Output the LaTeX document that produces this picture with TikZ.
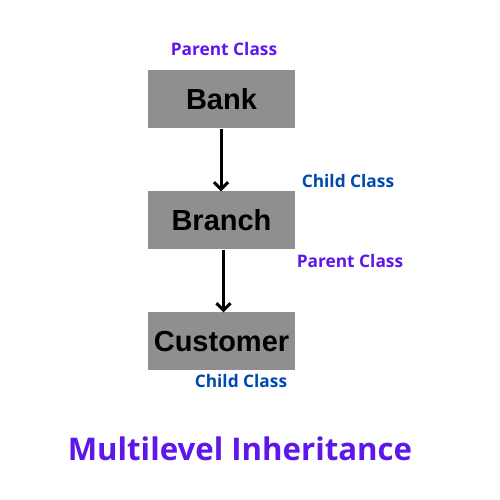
\documentclass[tikz,border=0pt]{standalone}
\usepackage{fontspec}
\setmainfont{Open Sans}
\newfontfamily\boxfont{Liberation Sans}
\usetikzlibrary{arrows.meta}
\definecolor{boxgray}{HTML}{8F8F8F}
\definecolor{lblpurple}{HTML}{5E17EB}
\definecolor{lblblue}{HTML}{004AAD}
\begin{document}
\begin{tikzpicture}[x=1pt,y=1pt,
  classbox/.style={fill=boxgray, draw=none, minimum width=147pt, minimum height=58pt, inner sep=0pt, font=\boxfont\bfseries\fontsize{29}{32}\selectfont},
  link/.style={line width=3pt, -{Straight Barb[length=7pt,width=14pt,line width=3pt]}},
  parentlbl/.style={text=lblpurple, font=\bfseries\fontsize{17.3}{20}\selectfont, inner sep=0pt},
  childlbl/.style={text=lblblue, font=\bfseries\fontsize{17.3}{20}\selectfont, inner sep=0pt}]
\useasboundingbox[fill=white] (0,0) rectangle (500,500);
\node[classbox] (bank) at (221.5,400.5) {Bank};
\node[classbox] (branch) at (221.5,279.5) {Branch};
\node[classbox] (customer) at (221.5,158.5) {Customer};
\draw[link] (bank.south -| 221,0) -- (branch.north -| 221,0);
\draw[link] (branch.south -| 223.5,0) -- (customer.north -| 223.5,0);
\node[parentlbl] (p1) at (224,451) {Parent Class};
\node[childlbl] (c1) at (348,319) {Child Class};
\node[parentlbl] (p2) at (350,239) {Parent Class};
\node[childlbl] (c2) at (241,119) {Child Class};
\node[text=lblpurple, font=\bfseries\fontsize{31.2}{36}\selectfont, inner sep=0pt] (title) at (240,51) {Multilevel Inheritance};
\end{tikzpicture}
\end{document}
